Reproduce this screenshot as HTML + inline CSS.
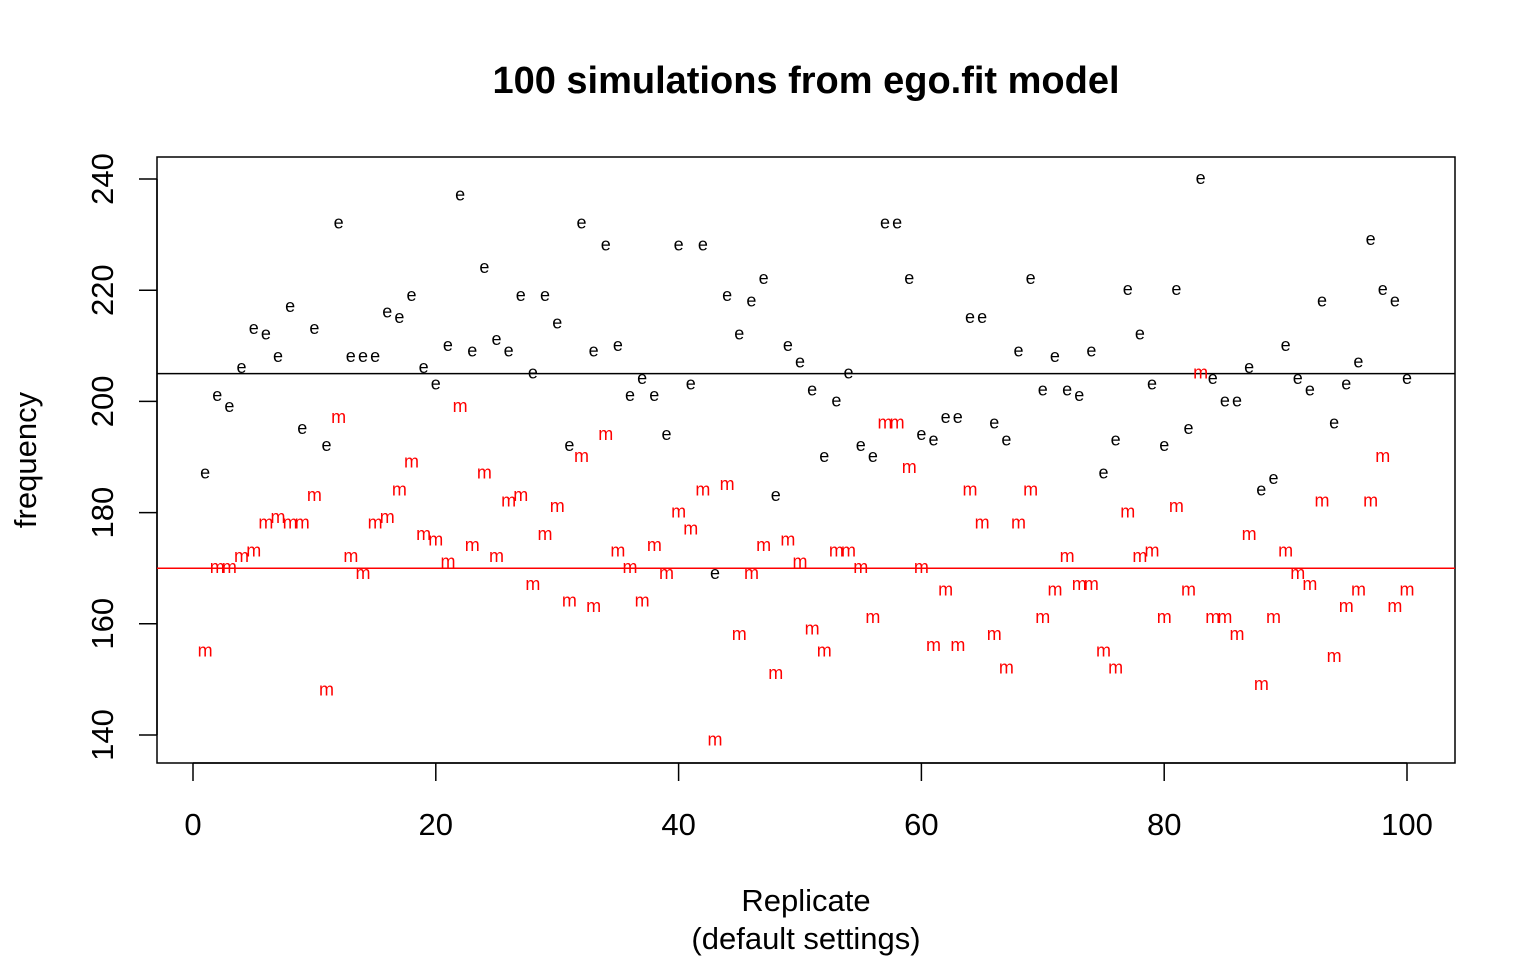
<!DOCTYPE html>
<html><head><meta charset="utf-8"><style>
html,body{margin:0;padding:0;background:#fff;}
svg{display:block;font-family:"Liberation Sans",Arial,sans-serif;}
</style></head><body>
<svg id="chart" width="1536" height="960" viewBox="0 0 1536 960" xmlns="http://www.w3.org/2000/svg">
<rect width="1536" height="960" fill="#fff"/>
<text x="806" y="93" text-anchor="middle" font-size="38" font-weight="bold">100 simulations from ego.fit model</text>
<rect x="157" y="157" width="1298" height="606" fill="none" stroke="#000" stroke-width="1.5"/>
<g id="xaxis"></g>
<g id="yaxis"></g>
<g id="refs"></g>
<g id="pts"></g>
<text x="806" y="911" text-anchor="middle" font-size="31">Replicate</text>
<text x="806" y="949" text-anchor="middle" font-size="31">(default settings)</text>
<text transform="translate(36,460) rotate(-90)" text-anchor="middle" font-size="31">frequency</text>
</svg>
<script>
const eValues=[187,201,199,206,213,212,208,217,195,213,192,232,208,208,208,216,215,219,206,203,210,237,209,224,211,209,219,205,219,214,192,232,209,228,210,201,204,201,194,228,203,228,169,219,212,218,222,183,210,207,202,190,200,205,192,190,232,232,222,194,193,197,197,215,215,196,193,209,222,202,208,202,201,209,187,193,220,212,203,192,220,195,240,204,200,200,206,184,186,210,204,202,218,196,203,207,229,220,218,204];
const mValues=[155,170,170,172,173,178,179,178,178,183,148,197,172,169,178,179,184,189,176,175,171,199,174,187,172,182,183,167,176,181,164,190,163,194,173,170,164,174,169,180,177,184,139,185,158,169,174,151,175,171,159,155,173,173,170,161,196,196,188,170,156,166,156,184,178,158,152,178,184,161,166,172,167,167,155,152,180,172,173,161,181,166,205,161,161,158,176,149,161,173,169,167,182,154,163,166,182,190,163,166];
const refValues=[205,170];
const xTicks=[0,20,40,60,80,100];
const yTicks=[140,160,180,200,220,240];
const NS="http://www.w3.org/2000/svg";
const xs=v=>193+v*(1407-193)/100;
const ys=v=>735-(v-140)*(735-179)/100;
function mk(tag,attrs,parent,txt){const el=document.createElementNS(NS,tag);for(const k in attrs)el.setAttribute(k,attrs[k]);if(txt!==undefined)el.textContent=txt;parent.appendChild(el);return el;}
const xa=document.getElementById('xaxis'),ya=document.getElementById('yaxis'),refs=document.getElementById('refs'),pts=document.getElementById('pts');
mk('line',{x1:xs(0),x2:xs(100),y1:763,y2:763,stroke:'#000','stroke-width':1.5},xa);
xTicks.forEach(t=>{
  const l=mk('line',{x1:xs(t),x2:xs(t),y1:763,y2:781,stroke:'#000','stroke-width':1.5},xa);
  
  
  const tx=mk('text',{x:xs(t),y:835,'text-anchor':'middle','font-size':31},xa,String(t));
  
  
});
mk('line',{x1:157,x2:157,y1:ys(140),y2:ys(240),stroke:'#000','stroke-width':1.5},ya);
yTicks.forEach(t=>{
  const l=mk('line',{x1:139,x2:157,y1:ys(t),y2:ys(t),stroke:'#000','stroke-width':1.5},ya);
  
  
  const tx=mk('text',{transform:`translate(113,${ys(t)}) rotate(-90)`,'text-anchor':'middle','font-size':31},ya,String(t));
  
  
});
const refColors=['#000','#f00'];
refValues.forEach((v,i)=>{
  const l=mk('line',{x1:157,x2:1455,y1:ys(v),y2:ys(v),stroke:refColors[i],'stroke-width':1.5},refs);
  
  
});
eValues.forEach((v,i)=>{
  const t=mk('text',{x:xs(i+1),y:ys(v)+5,'text-anchor':'middle','font-size':18,fill:'#000'},pts,'e');
  
  
});
mValues.forEach((v,i)=>{
  const t=mk('text',{x:xs(i+1),y:ys(v)+5,'text-anchor':'middle','font-size':18,fill:'#f00'},pts,'m');
  
  
});
</script>
</body></html>
